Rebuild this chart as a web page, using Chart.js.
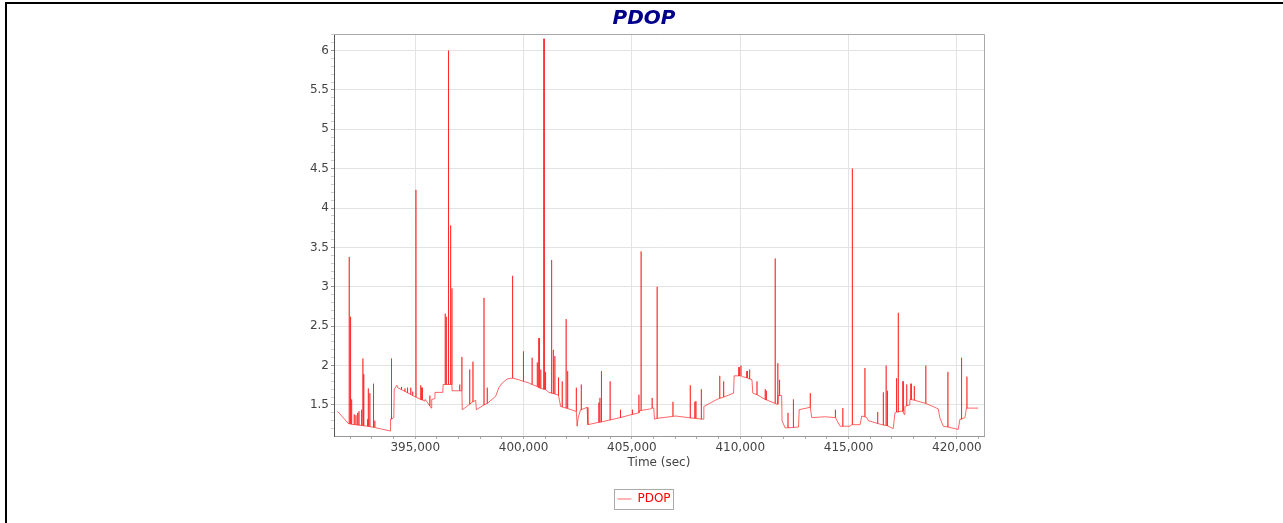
<!DOCTYPE html>
<html><head><meta charset="utf-8">
<script src="https://cdn.jsdelivr.net/npm/chart.js@4.4.1/dist/chart.umd.min.js"></script>
<style>
html,body{margin:0;padding:0;background:#fff;overflow:hidden;}
#frame{position:absolute;left:5px;top:2px;width:1300px;height:560px;border-left:2px solid #000;border-top:2px solid #000;}
#wrap{position:absolute;left:0;top:0;width:1283px;height:523px;}
</style></head><body>
<div id="frame"></div>
<div id="wrap"><canvas id="c" width="1283" height="523"></canvas></div>
<script>
const chartTitle = 'PDOP';
const seriesName = 'PDOP';
const xTitle = 'Time (sec)';
const xTickValues = [395000, 400000, 405000, 410000, 415000, 420000];
const yTickValues = [1.5, 2, 2.5, 3, 3.5, 4, 4.5, 5, 5.5, 6];

const times = [
391410,391930,
391950,391953,391956, 392010,392013,392016, 392060,392063,392066, 392180,392183,392186, 392260,392263,392266, 392340,392343,392346, 392400,392403,392406, 392520,392523,392526, 392580,392583,392586, 392620,392623,392626, 392800,392803,392806, 392830,392833,392836, 392900,392903,392906, 393070,393073,393076, 393130,393133,393136,
393180,393840,393860,
393900,393903,393906,
394010,394030,394150,394190,
394360,394363,394366, 394520,394523,394526, 394640,394643,394646, 394790,394793,394796, 394880,394883,394886,
395020, 395030,395033,395036, 395250,395253,395256, 395310,395313,395316,
395440,395460, 395670,395673,395676, 395740,395760,395900,395910,396270,396290,
396380,396383,396386, 396430,396433,396436, 396530,396533,396536, 396630,396633,396636, 396690,396693,396696,
396700, 397050,397053,397056, 397120, 397150,397153,397156, 397170,397330,397460,
397510,397513,397516, 397600, 397660,397663,397666, 397790,397820,
398170,398173,398176, 398320,398323,398326,
398710,398860,399020,399250,399480, 399490,399493,399496, 399780, 399990,399993,399996, 400240, 400390,400393,400396, 400630,400633,400636, 400700, 400710,400713,400716, 400790,400793,400796, 400940,400943,400946, 401010,401013,401016, 401170, 401290,401293,401296, 401370,401373,401376, 401440,401443,401446, 401600,401603,401606, 401630,401710,
401780,401783,401786, 401960,401963,401966, 402030,402033,402036, 402400, 402430,402433,402436, 402470,402520,402630, 402660,402663,402666, 402930,402970,
403470,403473,403476, 403520,403523,403526, 403590,403593,403596, 403990,403993,403996, 404470,404473,404476, 405010, 405020,405023,405026, 405310, 405320,405323,405326, 405360, 405420,405423,405426, 405850, 405930,405933,405936, 406010,406040, 406160,406163,406166, 406890,406893,406896, 407000,407600,
407690,407693,407696, 407900,407903,407906, 407950,407953,407956, 408200,408203,408206, 408290,408320,408920,
409050,409053,409056, 409230,409233,409236, 409690,409720, 409940,409943,409946, 410030,410033,410036, 410090, 410310,410313,410316, 410430,410433,410436, 410540,410580,
410770,410773,410776, 411150,411153,411156, 411200,411203,411206, 411610,411613,411616, 411690, 411730,411733,411736, 411750, 411810,411813,411816, 411910,411930,412070,
412200,412203,412206, 412450,412453,412456, 412690,412720,413220, 413230,413233,413236, 413300,413920,414380, 414390,414393,414396, 414530,414610, 414730,414733,414736, 415070,415140, 415170,415173,415176, 415530,415610, 415750,415753,415756, 415840,415910,
416340,416343,416346, 416600,416603,416606, 416730,416733,416736, 416790,416793,416796, 417060,417140, 417210,417213,417216, 417290,417293,417296, 417370, 417510,417513,417516, 417560,417600, 417680,417683,417686, 417810,417830, 417880,417883,417886, 418030,418033,418036, 418560,418563,418566, 419140,419210,419370, 419580,419583,419586, 420060,420140, 420210,420213,420216, 420370,420440, 420460,420463,420466, 420980
];

const pdop = [
1.42,1.26,
1.26,3.38,1.26, 1.26,2.62,1.26, 1.255,1.57,1.255, 1.25,1.38,1.25, 1.248,1.37,1.248, 1.245,1.40,1.245, 1.243,1.42,1.243, 1.24,1.44,1.24, 1.237,2.09,1.237, 1.236,1.89,1.236, 1.23,1.32,1.23, 1.228,1.71,1.228, 1.225,1.65,1.225, 1.217,1.77,1.217, 1.215,1.30,1.215,
1.21,1.17,1.32,
1.32,2.09,1.32,
1.34,1.70,1.75,1.72,
1.695,1.73,1.695, 1.673,1.71,1.673, 1.655,1.72,1.655, 1.633,1.72,1.633, 1.62,1.67,1.62,
1.60, 1.60,4.23,1.60, 1.57,1.75,1.57, 1.565,1.72,1.565,
1.55,1.57, 1.49,1.62,1.49, 1.46,1.57,1.58,1.66,1.66,1.76,
1.76,2.66,1.76, 1.76,2.62,1.76, 1.76,6.00,1.76, 1.76,3.78,1.76, 1.76,2.98,1.76,
1.68, 1.68,1.76,1.68, 1.68, 1.68,2.11,1.68, 1.44,1.47,1.50,
1.51,1.95,1.51, 1.53, 1.54,2.05,1.54, 1.56,1.44,
1.50,2.86,1.50, 1.52,1.72,1.52,
1.61,1.72,1.78,1.83,1.84, 1.84,3.14,1.84, 1.82, 1.80,2.18,1.80, 1.78, 1.76,2.10,1.76, 1.735,2.04,1.735, 1.72, 1.72,2.35,1.72, 1.71,1.95,1.71, 1.70,6.15,1.70, 1.695,1.92,1.695, 1.66, 1.65,3.34,1.65, 1.645,2.20,1.645, 1.64,2.12,1.64, 1.625,1.85,1.625, 1.62,1.48,
1.475,1.80,1.475, 1.46,2.59,1.46, 1.455,1.93,1.455, 1.42, 1.42,1.72,1.42, 1.23,1.34,1.44, 1.44,1.76,1.44, 1.47,1.25,
1.28,1.53,1.28, 1.28,1.59,1.28, 1.285,1.93,1.285, 1.31,1.80,1.31, 1.34,1.44,1.34, 1.38, 1.38,1.44,1.38, 1.40, 1.40,1.63,1.40, 1.43, 1.43,3.45,1.43, 1.45, 1.46,1.59,1.46, 1.46,1.32, 1.33,3.00,1.33, 1.355,1.54,1.355, 1.36,1.34,
1.335,1.75,1.335, 1.33,1.54,1.33, 1.33,1.55,1.33, 1.32,1.70,1.32, 1.32,1.48,1.57,
1.585,1.87,1.585, 1.60,1.80,1.60, 1.65,1.87, 1.87,1.98,1.87, 1.87,2.00,1.87, 1.86, 1.845,1.93,1.845, 1.83,1.95,1.83, 1.82,1.65,
1.63,1.80,1.63, 1.57,1.70,1.57, 1.565,1.68,1.565, 1.52,3.36,1.52, 1.51, 1.51,2.03,1.51, 1.62, 1.62,1.82,1.62, 1.62,1.30,1.21,
1.21,1.40,1.21, 1.215,1.57,1.215, 1.22,1.44,1.47, 1.47,1.65,1.47, 1.34,1.35,1.34, 1.34,1.44,1.34, 1.27,1.23, 1.23,1.46,1.23, 1.23,1.25, 1.25,4.50,1.25, 1.25,1.36, 1.35,1.97,1.35, 1.34,1.30,
1.265,1.41,1.265, 1.245,1.66,1.245, 1.24,2.00,1.24, 1.235,1.68,1.235, 1.20,1.40, 1.41,1.84,1.41, 1.41,2.67,1.41, 1.42, 1.42,1.80,1.42, 1.38,1.48, 1.49,1.76,1.49, 1.50,1.57, 1.57,1.77,1.57, 1.56,1.74,1.56, 1.52,2.00,1.52, 1.45,1.34,1.23, 1.22,1.92,1.22, 1.19,1.32, 1.32,2.10,1.32, 1.34,1.46, 1.46,1.86,1.46, 1.46
];

const n = Math.min(times.length, pdop.length);
const points = [];
for (let i = 0; i < n; i++) points.push({x: times[i], y: pdop[i]});

Chart.defaults.font.family = "'DejaVu Sans', Verdana, sans-serif";
Chart.defaults.font.size = 12;
Chart.defaults.color = '#444';

const isMajorX = v => xTickValues.includes(v);
const isMajorY = v => yTickValues.some(t => Math.abs(t - v) < 1e-6);

const framePlugin = {
  id: 'frameBox',
  afterDraw(chart) {
    const {ctx, chartArea: a} = chart;
    ctx.save();
    ctx.strokeStyle = '#a8a8a8';
    ctx.lineWidth = 1;
    ctx.beginPath();
    ctx.moveTo(a.left, Math.round(a.top) + 0.5);
    ctx.lineTo(Math.round(a.right) + 0.5, Math.round(a.top) + 0.5);
    ctx.lineTo(Math.round(a.right) + 0.5, a.bottom);
    ctx.stroke();
    const hb = chart.legend && chart.legend.legendHitBoxes && chart.legend.legendHitBoxes[0];
    if (hb) {
      ctx.strokeStyle = '#aaaaaa';
      ctx.strokeRect(Math.round(hb.left - 3) + 0.5, Math.round(hb.top - 4) + 0.5, Math.round(hb.width + 6), Math.round(hb.height + 8));
    }
    ctx.restore();
  }
};

new Chart(document.getElementById('c'), {
  type: 'line',
  data: {
    datasets: [{
      label: seriesName,
      data: points,
      borderColor: 'rgba(255,0,0,0.6)',
      backgroundColor: 'rgba(255,0,0,0.6)',
      borderWidth: 1,
      pointRadius: 0,
      tension: 0,
      fill: false
    }]
  },
  options: {
    responsive: false,
    animation: false,
    devicePixelRatio: 1,
    layout: {padding: {left: 304, right: 299, top: 0, bottom: 8}},
    plugins: {
      title: {
        display: true,
        text: chartTitle,
        color: '#00008b',
        font: {size: 20, weight: 'bold', style: 'italic', family: "'DejaVu Sans', sans-serif"},
        padding: {top: 7, bottom: 3}
      },
      legend: {
        display: true,
        position: 'bottom',
        labels: {
          color: '#ff0000',
          usePointStyle: true,
          pointStyle: 'line',
          pointStyleWidth: 14,
          font: {size: 12},
          padding: 10
        }
      },
      tooltip: {enabled: false}
    },
    scales: {
      x: {
        type: 'linear',
        min: 391250,
        max: 421250,
        afterBuildTicks: s => {
          const t = [];
          for (let v = 392000; v <= 421000; v += 1000) t.push({value: v});
          s.ticks = t;
        },
        afterFit: s => { s.height = 47; },
        ticks: {
          autoSkip: false, maxRotation: 0, minRotation: 0, padding: 2, color: '#444',
          callback: v => isMajorX(v) ? v.toLocaleString('en-US') : ''
        },
        grid: {
          color: c => (c.tick && isMajorX(c.tick.value)) ? '#e3e3e3' : 'rgba(0,0,0,0)',
          tickColor: '#aaa',
          tickLength: 3,
          drawTicks: true
        },
        border: {color: '#999', width: 1},
        title: {display: true, text: xTitle, color: '#444', font: {size: 12}, padding: {top: 0, bottom: 13}}
      },
      y: {
        type: 'linear',
        min: 1.106,
        max: 6.21,
        afterBuildTicks: s => {
          const t = [];
          for (let k = 12; k <= 62; k++) t.push({value: k / 10});
          s.ticks = t;
        },
        afterFit: s => { s.width = 30; },
        ticks: {
          autoSkip: false, padding: 2, color: '#444',
          callback: v => isMajorY(v) ? String(yTickValues.find(t => Math.abs(t - v) < 1e-6)) : ''
        },
        grid: {
          color: c => (c.tick && isMajorY(c.tick.value)) ? '#e3e3e3' : 'rgba(0,0,0,0)',
          tickColor: c => (c.tick && isMajorY(c.tick.value)) ? '#999' : '#ccc',
          tickLength: 3
        },
        border: {color: '#555', width: 1}
      }
    }
  },
  plugins: [framePlugin]
});
</script>
</body></html>
